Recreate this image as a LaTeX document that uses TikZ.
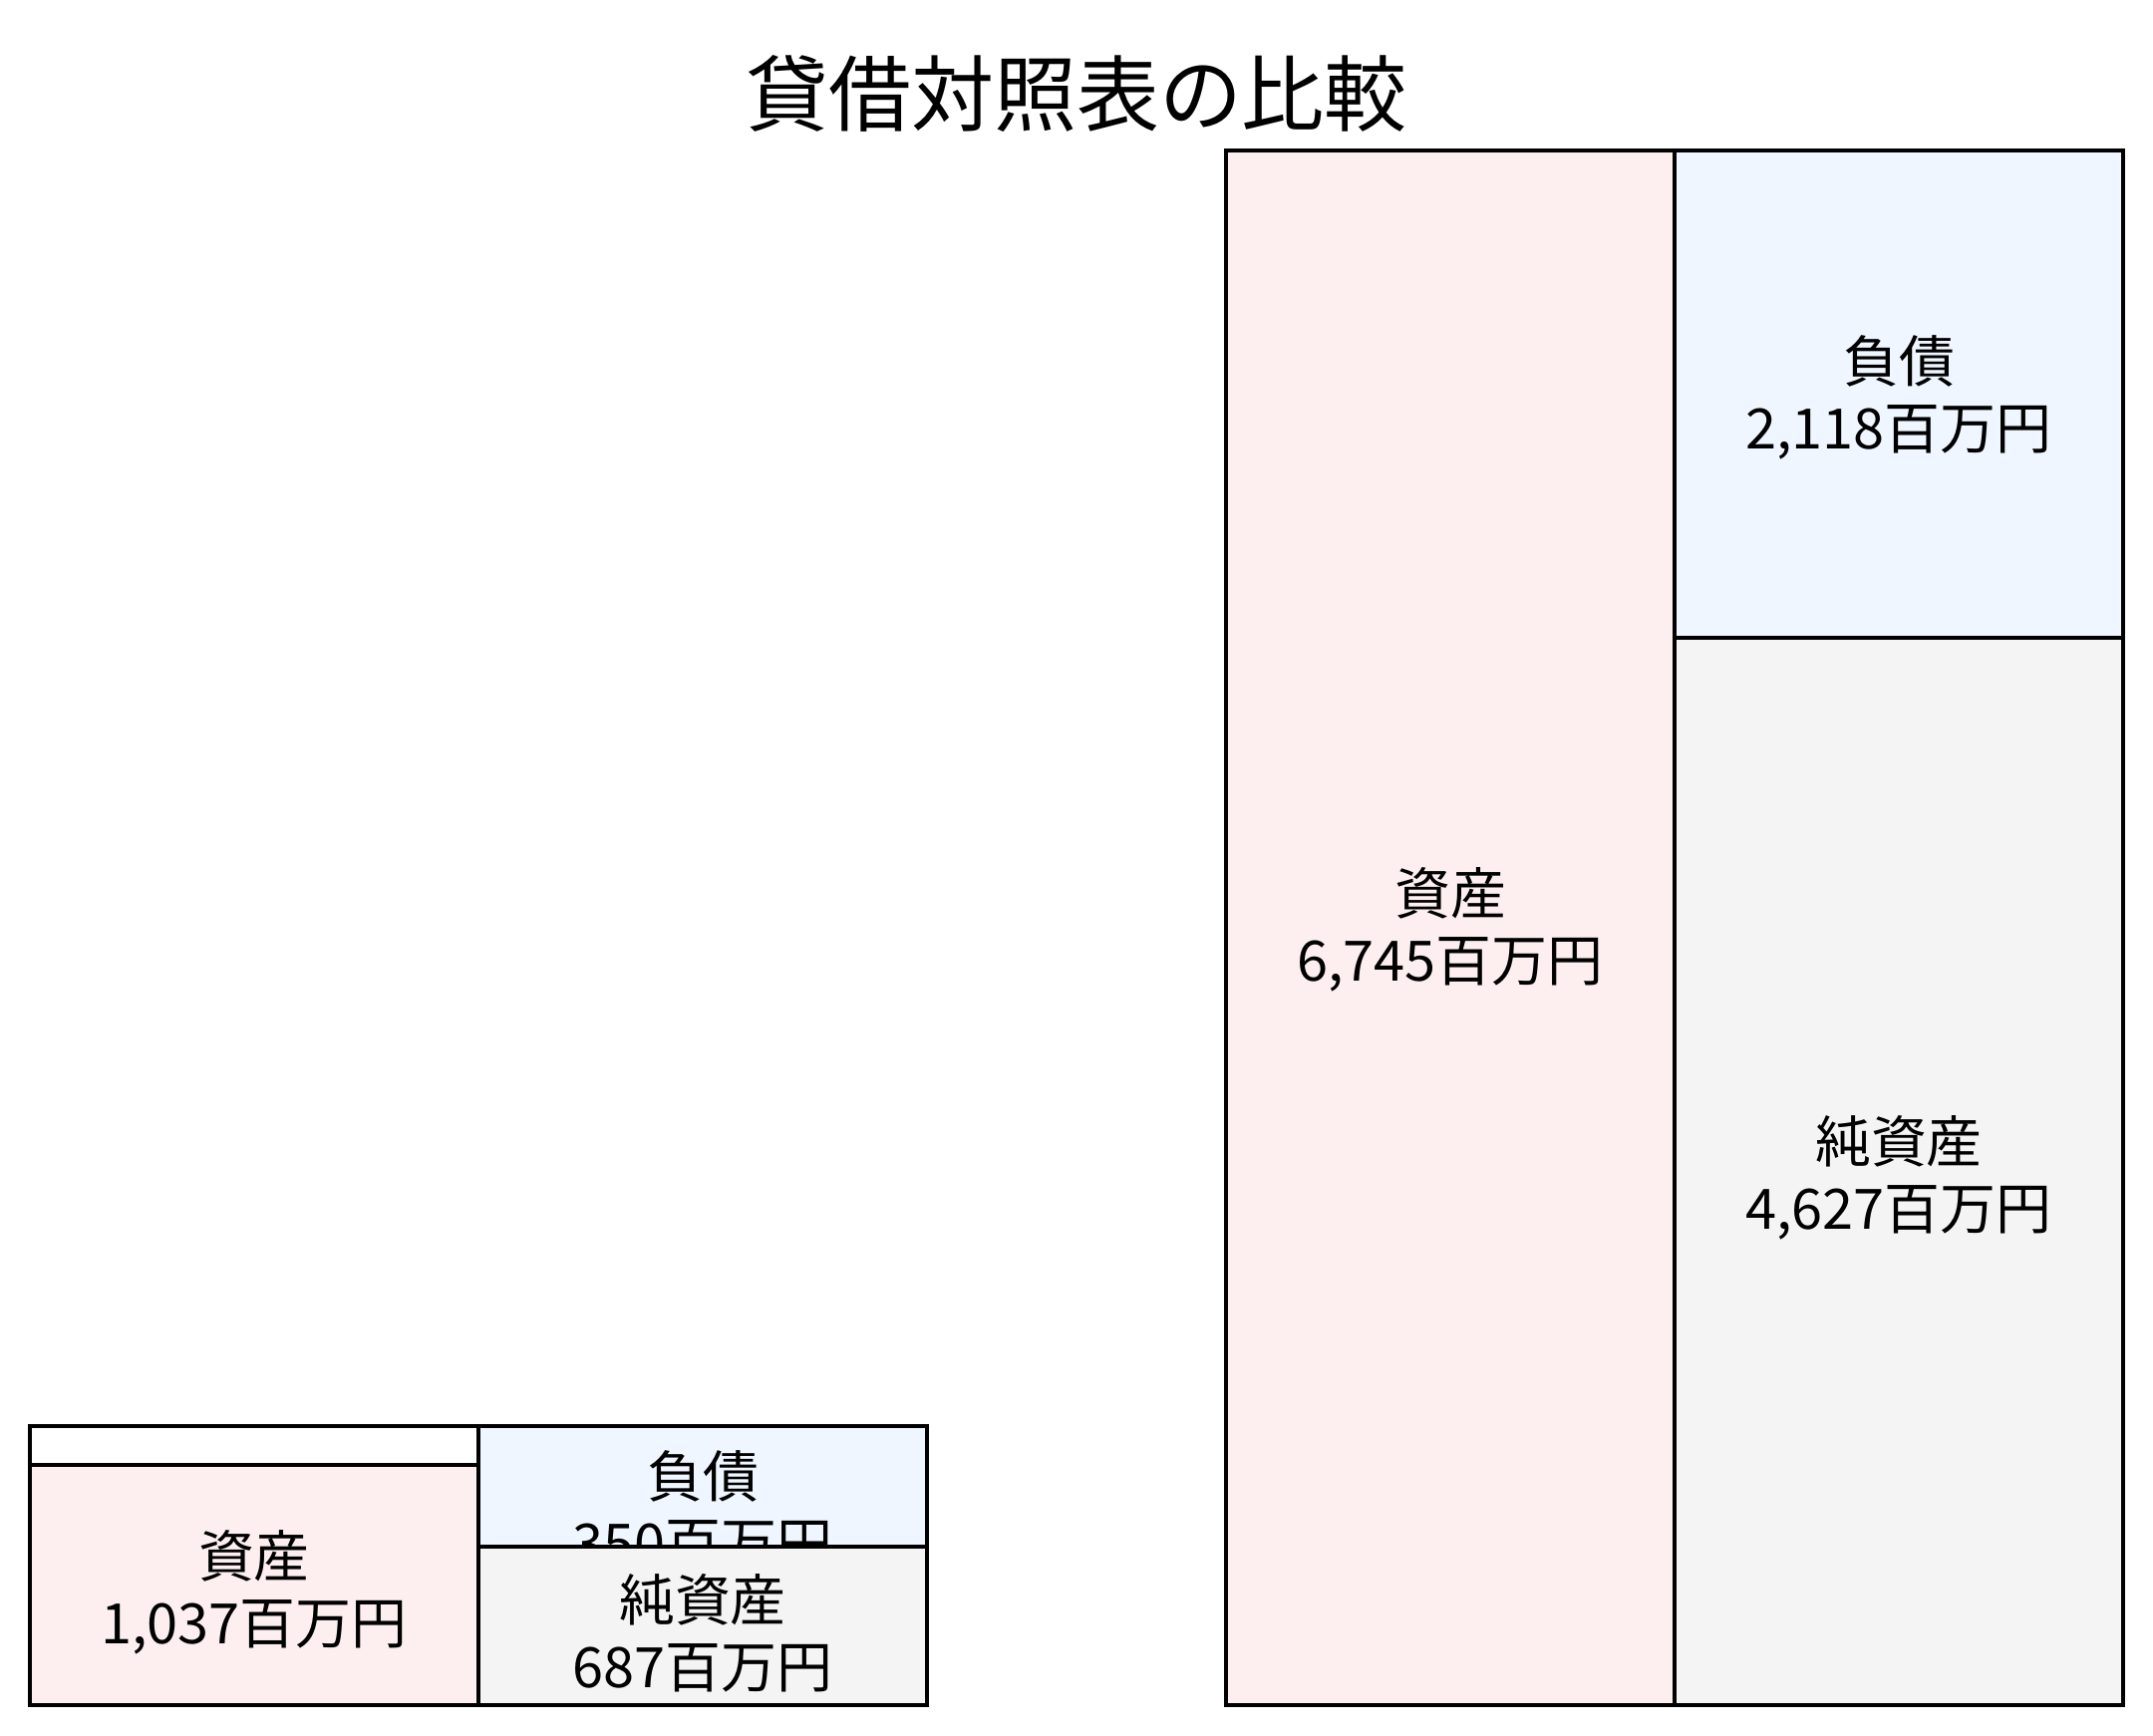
\documentclass[tikz,border=0pt]{standalone}
\usepackage{fontspec}
\setmainfont{Noto Sans CJK JP}
\definecolor{assetfill}{RGB}{253,239,239}
\definecolor{debtfill}{RGB}{239,246,255}
\definecolor{equityfill}{RGB}{244,244,244}
\newcommand{\boxfont}{\fontsize{15.9pt}{19pt}\selectfont}
\newcommand{\titlefont}{\fontsize{23.6pt}{28pt}\selectfont}

\begin{document}
\begin{tikzpicture}[x=0.01cm, y=-0.01cm,
  sheet/.style={draw=black, line width=1.1pt},
  lbl/.style={align=center, inner sep=0pt, font=\boxfont}]

\useasboundingbox (0,0) rectangle (2160,1742);

% Title
\path (1080,94) node[font=\titlefont, inner sep=0pt] (title) {貸借対照表の比較};

% Large sheet
\filldraw[sheet, fill=assetfill] (1230,151) rectangle (1680,1711);
\filldraw[sheet, fill=debtfill] (1680,151) rectangle (2130,640);
\filldraw[sheet, fill=equityfill] (1680,640) rectangle (2130,1711);

\path
(1455,933) node[lbl] (bigA) {資産\\6,745百万円}
(1905,399) node[lbl] (bigL) {負債\\2,118百万円}
(1905,1182) node[lbl] (bigN) {純資産\\4,627百万円}
;

% Small sheet
\filldraw[sheet, fill=white] (30,1431) rectangle (480,1470);
\filldraw[sheet, fill=assetfill] (30,1470) rectangle (480,1711);
\filldraw[sheet, fill=debtfill] (480,1431) rectangle (930,1552);
\path (705,1515) node[lbl] (smallL) {負債\\350百万円};
\filldraw[sheet, fill=equityfill] (480,1552) rectangle (930,1711);

\path
(255,1598) node[lbl] (smallA) {資産\\1,037百万円}
(705,1639) node[lbl] (smallN) {純資産\\687百万円}
;

\end{tikzpicture}
\end{document}
